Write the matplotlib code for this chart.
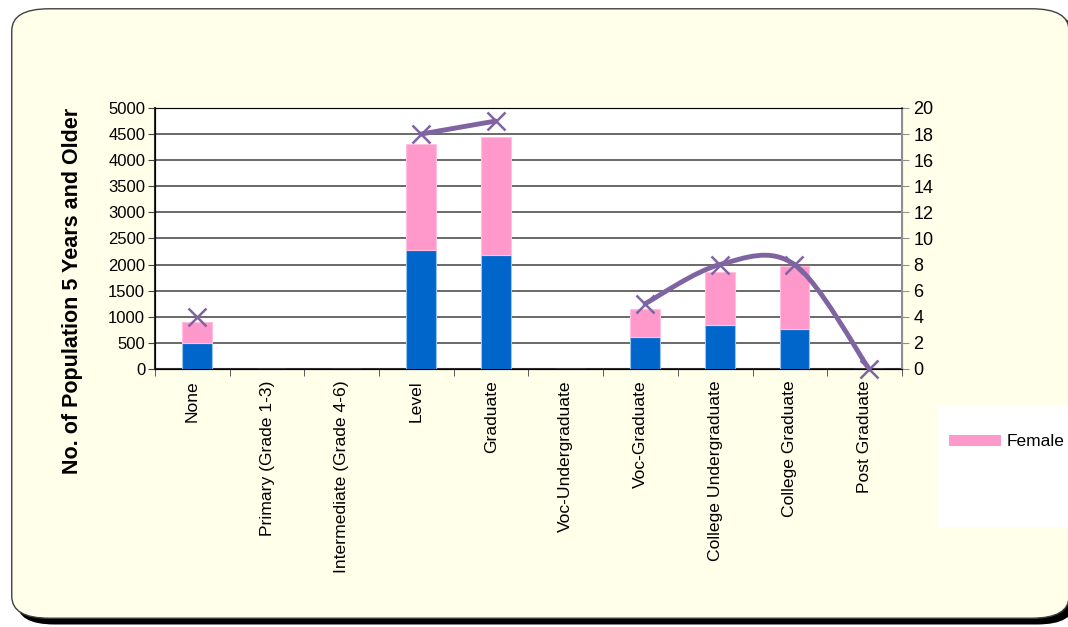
import matplotlib.pyplot as plt
import numpy as np
from matplotlib.patches import FancyBboxPatch, Patch
from matplotlib.path import Path
from matplotlib.patches import PathPatch

plt.rcParams['font.family'] = ['Liberation Sans', 'DejaVu Sans']

# ---------------- data ----------------
categorias = ["None", "Primary (Grade 1-3)", "Intermediate (Grade 4-6)", "Level",
              "Graduate", "Voc-Undergraduate", "Voc-Graduate",
              "College Undergraduate", "College Graduate", "Post Graduate"]
masculino = [500, 0, 0, 2270, 2190, 0, 610, 850, 770, 0]
feminino = [400, 0, 0, 2040, 2250, 0, 540, 1010, 1210, 0]
# serie da linha (eixo direito); None = sem valor
percentual = [4, None, None, 18, 19, None, 5, 8, 8, 0]

AZUL = "#0066CC"
ROSA = "#FF99CC"
ROXO = "#8064A2"
FUNDO = "#FFFFEA"
DESLOC = 0.06  # barras levemente deslocadas como no Excel

fig = plt.figure(figsize=(10.68, 6.27), dpi=100)
fig.patch.set_facecolor("white")

# moldura arredondada com sombra
sombra = FancyBboxPatch((0.016, 0.004), 0.99, 0.975, transform=fig.transFigure,
                        boxstyle="round,pad=0,rounding_size=0.035",
                        facecolor="black", edgecolor="none", zorder=-3)
moldura = FancyBboxPatch((0.011, 0.014), 0.99, 0.972, transform=fig.transFigure,
                         boxstyle="round,pad=0,rounding_size=0.035",
                         facecolor=FUNDO, edgecolor="#404040", linewidth=1, zorder=-2)
fig.patches.extend([sombra, moldura])

ax = fig.add_axes([0.1451, 0.4115, 0.6995, 0.4163])
ax.set_facecolor("white")
x = np.arange(len(categorias))
ax.bar(x + DESLOC, masculino, width=0.4, color=AZUL, edgecolor="#99C2F0", linewidth=0.8, zorder=3)
ax.bar(x + DESLOC, feminino, width=0.4, bottom=masculino, color=ROSA, edgecolor="#FFC0E0",
       linewidth=0.8, zorder=3)

ax.set_xlim(-0.5, len(categorias) - 0.5)
ax.set_ylim(0, 5000)
ax.set_yticks(np.arange(0, 5001, 500))
ax.yaxis.grid(True, color="#505050", linewidth=1.2, zorder=1)
ax.set_axisbelow(True)
ax.set_xticks(x)
ax.set_xticklabels(categorias, rotation=90, fontsize=12.6, va="top")
ax.set_xticks(np.arange(-0.5, len(categorias)), minor=True)
ax.tick_params(axis="x", which="major", length=0, pad=8)
ax.tick_params(axis="x", which="minor", length=5, color="#404040")
ax.tick_params(axis="y", labelsize=12, length=5, color="#404040", pad=2)
for lado in ["top", "right"]:
    ax.spines[lado].set_color("#909090")
ax.spines["left"].set_color("#303030")
ax.spines["bottom"].set_color("#303030")
ax.spines["left"].set_linewidth(1.5)
ax.spines["bottom"].set_linewidth(1.5)
ax.set_ylabel("No. of Population 5 Years and Older", fontsize=15.5, fontweight="bold")
ax.yaxis.set_label_coords(-0.097, 0.30)

ax2 = ax.twinx()
ax2.set_ylim(0, 20)
ax2.set_yticks(np.arange(0, 21, 2))
ax2.tick_params(axis="y", labelsize=13, length=5, color="#909090", pad=3)
ax2.spines["right"].set_color("#909090")
ax2.spines["right"].set_linewidth(1.5)


# linha suavizada (Bezier estilo Excel) por trechos contínuos
def trechos(valores):
    grupo = []
    for i, v in enumerate(valores):
        if v is None:
            if grupo:
                yield grupo
            grupo = []
        else:
            grupo.append((i + DESLOC, v))
    if grupo:
        yield grupo


for grupo in trechos(percentual):
    pts = np.array(grupo, dtype=float)
    if len(pts) >= 2:
        verts = [tuple(pts[0])]
        codes = [Path.MOVETO]
        n = len(pts)
        for i in range(n - 1):
            p0 = pts[max(i - 1, 0)]
            p1 = pts[i]
            p2 = pts[i + 1]
            p3 = pts[min(i + 2, n - 1)]
            c1 = p1 + (p2 - p0) / 6
            c2 = p2 - (p3 - p1) / 6
            verts += [tuple(c1), tuple(c2), tuple(p2)]
            codes += [Path.CURVE4] * 3
        ax2.add_patch(PathPatch(Path(verts, codes), facecolor="none", edgecolor=ROXO,
                                linewidth=3.5, capstyle="round", zorder=4, clip_on=False))
    ax2.plot(pts[:, 0], pts[:, 1], linestyle="none", marker="x", markersize=13,
             markeredgewidth=1.8, color=ROXO, zorder=5, clip_on=False)

# legenda (caixa branca cortada na borda direita, como no original)
caixa = FancyBboxPatch((937 / 1068, 1 - 527 / 627), 140 / 1068, 122 / 627,
                       transform=fig.transFigure, boxstyle="square,pad=0",
                       facecolor="white", edgecolor="none", zorder=-1)
fig.patches.append(caixa)
leg = fig.legend(handles=[Patch(facecolor=ROSA, edgecolor="none", label="Female")],
                 loc="center left", bbox_to_anchor=(949 / 1068, 1 - 442 / 627), fontsize=12.5,
                 frameon=False, handlelength=3.0, handleheight=0.55,
                 borderpad=0.0, borderaxespad=0, handletextpad=0.3)

fig.savefig("out.png", dpi=100, facecolor=fig.get_facecolor())
